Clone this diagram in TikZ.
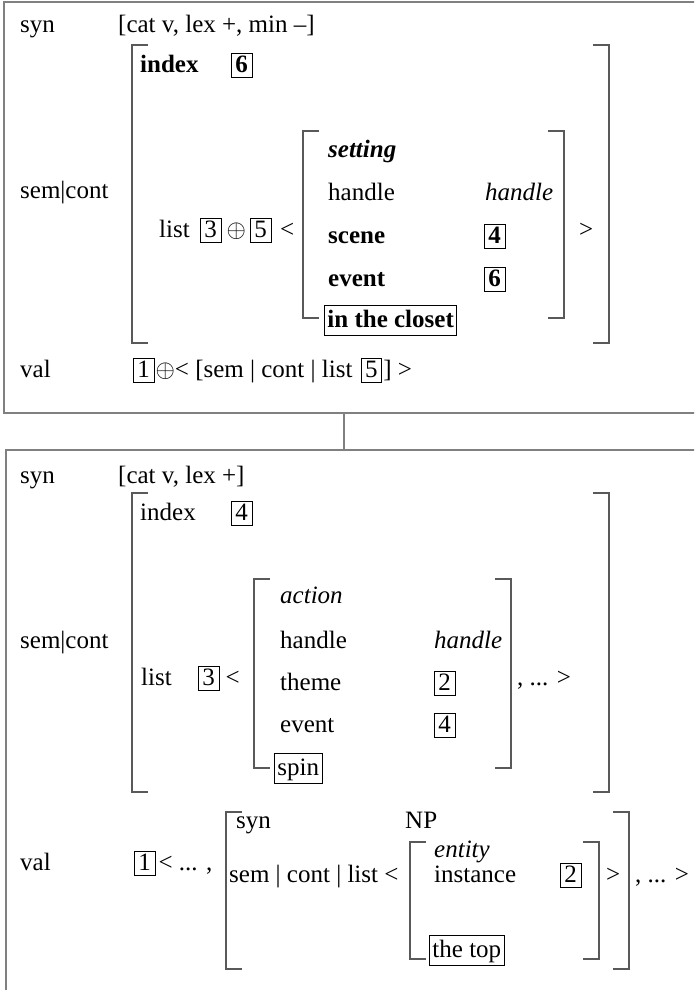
\documentclass[tikz,border=0pt]{standalone}
\usepackage{fontspec}
\setmainfont{Liberation Serif}
\usetikzlibrary{positioning}

\tikzset{
  txt/.style={anchor=base west, inner sep=0pt},
  tag/.style={draw, anchor=base west, line width=0.9pt, inner xsep=4pt, inner ysep=2.5pt,
    text height=16pt, text depth=3pt},
  wordbox/.style={tag, inner xsep=3pt, inner ysep=2.5pt, text height=19pt, text depth=6pt},
  frame/.style={draw=gray, line width=1.6pt},
  brk/.style={draw=black!65, line width=1.3pt},
}
% left x, right x, top y, bottom y
\newcommand\avmbrackets[4]{%
  \draw[brk] (#1+16,#3) -- (#1,#3) -- (#1,#4) -- (#1+16,#4);
  \draw[brk] (#2-16,#3) -- (#2,#3) -- (#2,#4) -- (#2-16,#4);
}

\begin{document}
\fontsize{25}{30}\selectfont
\begin{tikzpicture}[x=1pt,y=-1pt]
  \useasboundingbox (0,0) rectangle (694,990);
  \clip (0,0) rectangle (694,990);

  % upper sign
  \draw[frame] (4,2) rectangle (720,413);
  \node[txt] (syn1) at (20,33) {syn};
  \node[txt] (cat1) at (118,33) {[cat v, lex +, min --]};
  \avmbrackets{132}{609}{45}{343}
  \node[txt] (idx1) at (140,72) {\textbf{index}};
  \node[tag] (t6a) at (231,72) {\textbf{6}};
  \node[txt] (sc1) at (20,198) {sem|cont};
  \node[txt] (list1) at (159,237) {list};
  \node[tag] (t3a) at (200,237) {3};
  \node[txt, base right=5pt of t3a] (op1) {$\oplus$};
  \node[tag] (t5a) at (250,237) {5};
  \node[txt] (lt1) at (280,237) {<};
  \avmbrackets{303}{564}{131}{318}
  \node[txt] (set) at (328,157) {\textbf{\textit{setting}}};
  \node[txt] (hd1) at (328,200) {handle};
  \node[txt] (hdv1) at (485,200) {\textit{handle}};
  \node[txt] (scn) at (328,243) {\textbf{scene}};
  \node[tag] (t4a) at (484,243) {\textbf{4}};
  \node[txt] (ev1) at (328,286) {\textbf{event}};
  \node[tag] (t6b) at (484,286) {\textbf{6}};
  \node[wordbox] (clo) at (324,327) {\textbf{in the closet}};
  \node[txt] (gt1) at (579,237) {>};
  \node[txt] (val1) at (20,377) {val};
  \node[tag] (t1a) at (133,377) {1};
  \node[txt, base right=1pt of t1a] (vl1) {$\oplus$< [sem | cont | list};
  \node[tag, base right=8pt of vl1] (t5b) {5};
  \node[txt, base right=1pt of t5b] (vr1) {] >};

  % link
  \coordinate (upbot) at (344,413);
  \coordinate (lowtop) at (344,450);
  \draw[frame] (upbot) -- (lowtop);

  % lower sign
  \draw[frame] (6,450) rectangle (720,1010);
  \node[txt] (syn2) at (20,483) {syn};
  \node[txt] (cat2) at (118,483) {[cat v, lex +]};
  \avmbrackets{132}{609}{493}{792}
  \node[txt] (idx2) at (140,520) {index};
  \node[tag] (t4b) at (231,520) {4};
  \node[txt] (sc2) at (20,648) {sem|cont};
  \node[txt] (list2) at (141,685) {list};
  \node[tag] (t3b) at (198,685) {3};
  \node[txt, base right=6pt of t3b] (lt2) {<};
  \avmbrackets{254}{511}{579}{768}
  \node[txt] (act) at (280,603) {\textit{action}};
  \node[txt] (hd2) at (280,648) {handle};
  \node[txt] (hdv2) at (434,648) {\textit{handle}};
  \node[txt] (thm) at (280,690) {theme};
  \node[tag] (t2a) at (434,690) {2};
  \node[txt] (ev2) at (280,732) {event};
  \node[tag] (t4c) at (434,732) {4};
  \node[wordbox] (spin) at (274,775) {spin};
  \node[txt] (etc1) at (517,685) {, ... >};
  \node[txt] (val2) at (20,870) {val};
  \node[tag] (t1b) at (134,870) {1};
  \node[txt, base right=3pt of t1b] (etc2) {< ... ,};
  \avmbrackets{226}{629}{812}{969}
  \node[txt] (syn3) at (236,828) {syn};
  \node[txt] (np) at (405,828) {NP};
  \node[txt] (sl) at (229,882) {sem | cont | list <};
  \avmbrackets{410}{599}{842}{959}
  \node[txt] (ent) at (434,857) {\textit{entity}};
  \node[txt] (inst) at (434,882) {instance};
  \node[tag] (t2b) at (560,882) {2};
  \node[wordbox] (top) at (429,957) {the top};
  \node[txt] (gt2) at (606,882) {>};
  \node[txt] (etc3) at (635,882) {, ... >};
\end{tikzpicture}
\end{document}
